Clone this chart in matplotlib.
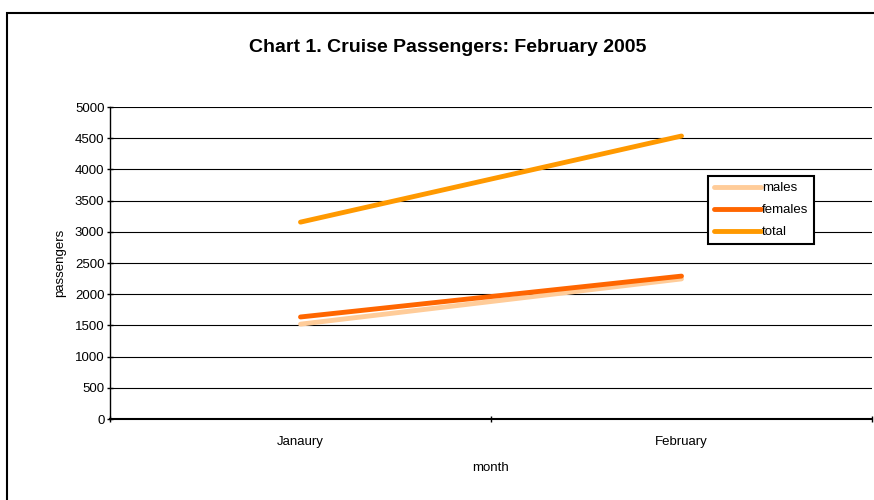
import matplotlib
matplotlib.use("Agg")
import matplotlib.pyplot as plt
from matplotlib.patches import Rectangle

months = ["Janaury", "February"]
males = [1520, 2245]
females = [1635, 2290]
total = [3155, 4535]

plt.rcParams['font.family'] = ['Liberation Sans', 'DejaVu Sans']

W, H = 874, 500
fig = plt.figure(figsize=(W/100, H/100), dpi=100)
fig.patches.append(Rectangle((6.5/W, -0.1), 1.2, (H-12.5)/H + 0.1, transform=fig.transFigure,
                             fill=False, edgecolor='black', linewidth=1.5))

ax = fig.add_axes([110/W, 1-419/H, (872-110)/W, (419-107)/H])
x = [0.5, 1.5]
ax.plot(x, males, color='#FFCC99', lw=3.5, label='males', solid_capstyle='round')
ax.plot(x, females, color='#FF6600', lw=3.5, label='females', solid_capstyle='round')
ax.plot(x, total, color='#FF9900', lw=3.5, label='total', solid_capstyle='round')

ax.set_xlim(0, 2)
ax.set_ylim(0, 5000)
ax.set_yticks(range(0, 5001, 500))
ax.set_xticks([0, 1, 2])
ax.set_xticklabels([])
ax.set_xticks(x, minor=True)
ax.set_xticklabels(months, minor=True)
ax.tick_params(axis='x', which='minor', length=0, pad=12, labelsize=9.5)
ax.tick_params(axis='x', which='major', length=4, direction='inout', width=1)
ax.tick_params(axis='y', length=4, direction='inout', labelsize=9.5, pad=2, width=1)
ax.grid(axis='y', color='black', lw=0.8)
ax.set_axisbelow(True)
for s in ['top', 'right']:
    ax.spines[s].set_visible(False)
ax.spines['left'].set_linewidth(1)
ax.spines['bottom'].set_linewidth(1.5)
ax.set_xlabel('month', fontsize=9.5, labelpad=10)
ax.set_ylabel('passengers', fontsize=9.5, labelpad=6)

fig.text(448/W, 1-47/H, 'Chart 1. Cruise Passengers: February 2005', ha='center', va='center',
         fontsize=14, fontweight='bold')

leg = ax.legend(loc='upper left', bbox_to_anchor=((708-110)/(872-110), (419-176)/312),
                frameon=True, fancybox=False, edgecolor='black', fontsize=9.5,
                handlelength=3.6, handletextpad=0.05, borderpad=0.45, labelspacing=0.75,
                borderaxespad=0)
leg.get_frame().set_linewidth(1.5)
leg.get_frame().set_alpha(1)

fig.savefig('out.png', dpi=100)
